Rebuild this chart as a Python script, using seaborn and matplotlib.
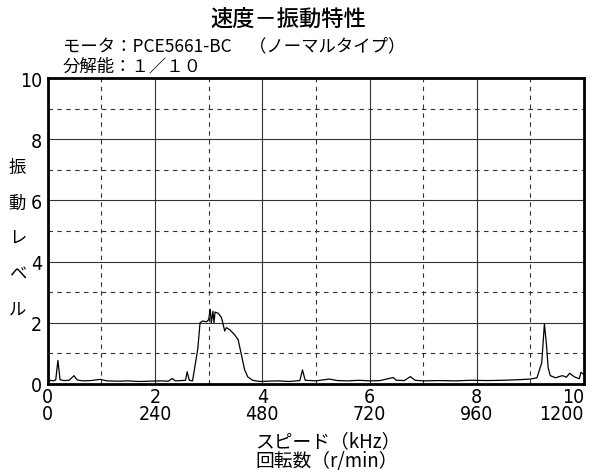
import matplotlib

matplotlib.use("Agg")
import matplotlib.pyplot as plt  # noqa: E402
import seaborn as sns  # noqa: E402
from matplotlib.ticker import MultipleLocator  # noqa: E402

# speed (kHz) vs vibration level
speed_khz = [
    0.0, 0.05, 0.1, 0.15, 0.19, 0.23, 0.3, 0.4, 0.49, 0.55, 0.65, 0.8,
    0.98, 1.1, 1.3, 1.5, 1.7, 1.9, 2.1, 2.25, 2.32, 2.38, 2.5, 2.57,
    2.6, 2.64, 2.7, 2.74, 2.8, 2.84, 2.89, 2.96, 3.0, 3.03, 3.05, 3.08,
    3.1, 3.12, 3.18, 3.24, 3.3, 3.33, 3.39, 3.48, 3.55, 3.61, 3.67, 3.73,
    3.82, 3.95, 4.1, 4.3, 4.5, 4.7, 4.75, 4.8, 5.0, 5.25, 5.4, 5.6,
    5.8, 6.0, 6.2, 6.44, 6.5, 6.65, 6.76, 6.85, 7.0, 7.3, 7.6, 7.9,
    8.2, 8.5, 8.8, 9.0, 9.12, 9.21, 9.26, 9.3, 9.33, 9.37, 9.47, 9.55,
    9.6, 9.67, 9.73, 9.82, 9.91, 9.94, 10.0,
]
level = [
    0.08, 0.12, 0.1, 0.13, 0.77, 0.14, 0.11, 0.12, 0.27, 0.13, 0.1, 0.11,
    0.15, 0.1, 0.09, 0.1, 0.08, 0.09, 0.1, 0.09, 0.18, 0.1, 0.11, 0.12,
    0.4, 0.12, 0.1, 0.52, 1.18, 2.0, 2.06, 2.03, 2.1, 2.44, 2.0, 2.38,
    2.0, 2.35, 2.31, 2.17, 1.73, 1.84, 1.78, 1.62, 1.45, 0.96, 0.47, 0.23,
    0.12, 0.08, 0.09, 0.1, 0.08, 0.11, 0.46, 0.12, 0.1, 0.16, 0.11, 0.1,
    0.12, 0.1, 0.11, 0.21, 0.12, 0.11, 0.24, 0.12, 0.1, 0.11, 0.1, 0.12,
    0.11, 0.12, 0.14, 0.16, 0.2, 0.69, 1.97, 1.24, 0.53, 0.27, 0.2, 0.25,
    0.27, 0.22, 0.35, 0.23, 0.17, 0.38, 0.3,
]

x_major = [0, 2, 4, 6, 8, 10]
rpm_labels = ["0", "240", "480", "720", "960", "1200"]
y_major = [0, 2, 4, 6, 8, 10]

sns.set_style("white")
plt.rcParams["font.family"] = ["Noto Sans CJK JP", "DejaVu Sans"]
plt.rcParams["text.color"] = "black"
plt.rcParams["xtick.color"] = "black"
plt.rcParams["ytick.color"] = "black"
num_kw = dict(family="DejaVu Sans", fontstretch="condensed", fontsize=14)

fig = plt.figure(figsize=(6, 4.77), dpi=100)
ax = fig.add_axes([0.0795, 0.193, 0.894, 0.641])

sns.lineplot(x=speed_khz, y=level, color="black", linewidth=0.9, ax=ax)

ax.set_xlim(0, 10)
ax.set_ylim(0, 10)
ax.set_xticks(x_major)
xlabs = ax.set_xticklabels([f"{k}\n{r}" for k, r in zip(x_major, rpm_labels)],
                           linespacing=0.9, **num_kw)
xlabs[-1].set_horizontalalignment("right")
xlabs[-1].set_multialignment("right")
ax.set_yticks(y_major)
ax.set_yticklabels([str(v) for v in y_major], **num_kw)
ax.xaxis.set_minor_locator(MultipleLocator(1))
ax.yaxis.set_minor_locator(MultipleLocator(1))
ax.tick_params(which="both", length=0)
ax.tick_params(axis="x", pad=2)
ax.tick_params(axis="y", pad=4)

ax.grid(which="major", color="#333333", linewidth=0.8, linestyle="-")
ax.grid(which="minor", color="#333333", linewidth=0.8, linestyle=(0, (4, 4)))
ax.set_axisbelow(True)
for sp in ax.spines.values():
    sp.set_visible(True)
    sp.set_color("black")
    sp.set_linewidth(2)

fig.text(0.48, 0.96, "速度－振動特性", ha="center", va="center",
         fontsize=16, fontweight="medium")
fig.text(0.105, 0.902, "モータ：PCE5661-BC　（ノーマルタイプ）", ha="left",
         va="center", fontsize=12.5)
fig.text(0.105, 0.86, "分解能：１／１０", ha="left", va="center", fontsize=12.5)
fig.text(0.029, 0.499, "振\n動\nレ\nベ\nル", ha="center", va="center",
         fontsize=12.5, linespacing=2.25)
fig.text(0.425, 0.074, "スピード（kHz）", ha="left", va="center", fontsize=13.5)
fig.text(0.425, 0.032, "回転数（r/min）", ha="left", va="center", fontsize=13.5)

fig.savefig("out.png", dpi=100)
